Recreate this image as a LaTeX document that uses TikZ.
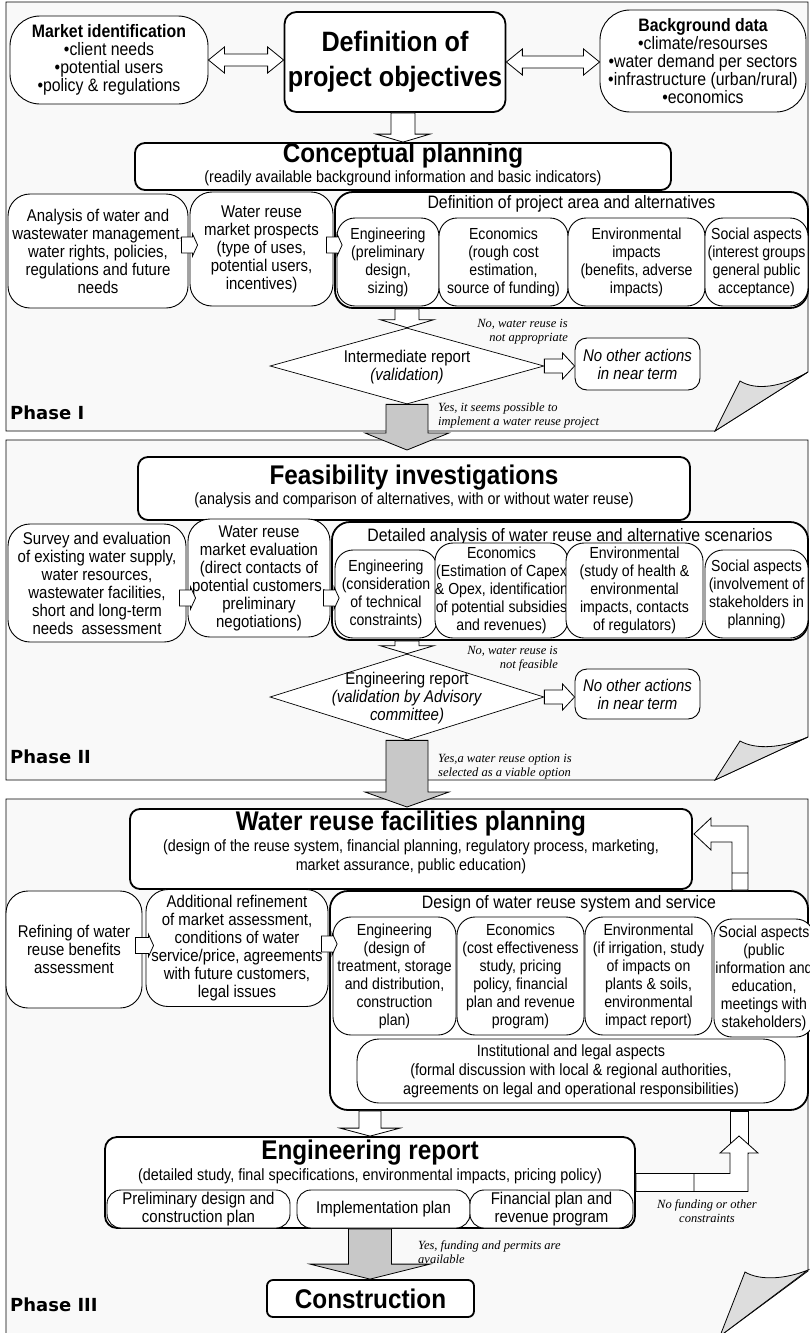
\documentclass[tikz,border=0pt]{standalone}
\usepackage{fontspec}
\setmainfont{Liberation Sans}[FakeStretch=0.88]
\newfontfamily\titlefam{Liberation Sans}[FakeStretch=0.9]
\newfontfamily\serifit{Liberation Serif}
\newfontfamily\phasefam{DejaVu Sans}
\usetikzlibrary{shapes,arrows,positioning,calc}

\newcommand{\wrBody}{\fontsize{17}{18}\selectfont}
\newcommand{\wrSmall}{\fontsize{16}{18}\selectfont}
\newcommand{\wrTop}{\fontsize{18}{18}\selectfont}
\newcommand{\wrGroup}{\fontsize{18}{20}\selectfont}
\newcommand{\wrSub}{\fontsize{16.3}{19}\selectfont}
\newcommand{\wrTitle}{\titlefam\bfseries\fontsize{27}{28}\selectfont}
\newcommand{\wrNote}{\serifit\itshape\fontsize{12.5}{14}\selectfont}
\newcommand{\wrPhase}{\phasefam\bfseries\fontsize{18}{20}\selectfont}

% hollow block arrows: style, from, to, shaft half, head half, head length
\newcommand{\downarr}[6]{%
  \draw[#1] let \p1=(#2), \p2=(#3) in
    (\x1-#4,\y1) -- (\x1-#4,\y2+#6) -- (\x1-#5,\y2+#6) -- (\x1,\y2)
    -- (\x1+#5,\y2+#6) -- (\x1+#4,\y2+#6) -- (\x1+#4,\y1) -- cycle;}
\newcommand{\rightarr}[6]{%
  \draw[#1] let \p1=(#2), \p2=(#3) in
    (\x1,\y1+#4) -- (\x2-#6,\y1+#4) -- (\x2-#6,\y1+#5) -- (\x2,\y1)
    -- (\x2-#6,\y1-#5) -- (\x2-#6,\y1-#4) -- (\x1,\y1-#4) -- cycle;}
\newcommand{\dblarr}[6]{%
  \draw[#1] let \p1=(#2), \p2=(#3) in
    (\x1,\y1) -- (\x1+#6,\y1+#5) -- (\x1+#6,\y1+#4) -- (\x2-#6,\y1+#4)
    -- (\x2-#6,\y1+#5) -- (\x2,\y1) -- (\x2-#6,\y1-#5) -- (\x2-#6,\y1-#4)
    -- (\x1+#6,\y1-#4) -- (\x1+#6,\y1-#5) -- cycle;}

\begin{document}
\begin{tikzpicture}[x=1pt,y=-1pt,
  panel/.style={draw=black,fill=gray!5,line width=0.8pt},
  flap/.style={draw=black,fill=gray!27,line width=0.8pt},
  box/.style={draw,fill=white,rounded corners=18pt,align=center,inner xsep=0pt,inner ysep=1pt,line width=0.9pt,font=\wrBody},
  subbox/.style={box,font=\wrSmall},
  topbox/.style={box,font=\wrTop},
  headbox/.style={draw,fill=white,rounded corners=10pt,line width=1.8pt},
  groupbox/.style={draw,fill=white,rounded corners=18pt,line width=1.8pt},
  endbox/.style={draw,fill=white,rounded corners=12pt,align=center,line width=0.9pt,font=\wrBody\itshape},
  decision/.style={draw,fill=white,diamond,aspect=3.6,inner sep=0pt,line width=0.7pt},
  txt/.style={inner sep=0pt,align=center,font=\wrBody},
  note/.style={inner sep=0pt,font=\wrNote},
  blockarrow/.style={draw,fill=white,line width=0.8pt},
  grayarrow/.style={draw,fill=gray!43,line width=0.8pt},
  phase/.style={inner sep=0pt,anchor=west,font=\wrPhase}]
\useasboundingbox (0,0) rectangle (810,1333);

% Phase panels with folded corners
\draw[panel] (6,2) -- (808,2) -- (808,372) -- (715,431) -- (6,431) -- cycle;
\draw[flap] (715,431) -- (740,381) .. controls (756,391) and (782,387) .. (808,372) -- cycle;
\draw[panel] (6,440) -- (808,440) -- (808,737) -- (715,780) -- (6,780) -- cycle;
\draw[flap] (715,780) -- (740,741) .. controls (756,750) and (782,748) .. (808,737) -- cycle;
\draw[panel] (6,799) -- (808,799) -- (808,1271) -- (720,1336) -- (6,1336) -- cycle;
\draw[flap] (720,1336) -- (745,1272) .. controls (760,1281) and (786,1279) .. (808,1270) -- cycle;

% ---------------- Phase I ----------------
\node[topbox, rounded corners=30pt, minimum width=198pt, minimum height=88pt] (market) at (109,60)
  {{\bfseries Market identification}\\•client needs\\•potential users\\•policy \& regulations};
\node[headbox, rounded corners=12pt, minimum width=210pt, minimum height=100pt, align=center,
  font=\titlefam\bfseries\fontsize{28}{35}\selectfont] (objectives) at (395,62) {Definition of\\project objectives};
\node[topbox, rounded corners=30pt, minimum width=206pt, minimum height=102pt] (background) at (703,61)
  {{\bfseries Background data}\\•climate/resourses\\•water demand per sectors\\•infrastructure (urban/rural)\\•economics};
\dblarr{blockarrow}{market.east}{objectives.west}{6pt}{13pt}{16pt}
\dblarr{blockarrow}{objectives.east}{background.west}{6pt}{13pt}{16pt}

\node[headbox, minimum width=536pt, minimum height=47pt] (concept) at (403,166.5) {};
\node[txt, font=\wrTitle] (conceptT) at (403,156) {Conceptual planning};
\node[txt, font=\wrSub] (conceptS) at (403,178) {(readily available background information and basic indicators)};
\downarr{blockarrow}{objectives.south -| concept.north}{concept.north}{12pt}{27pt}{8pt}

\node[box, rounded corners=22pt, minimum width=180pt, minimum height=114pt] (analysis) at (98,251)
  {Analysis of water and\\wastewater management,\\water rights, policies,\\regulations and future\\needs};
\node[box, rounded corners=22pt, minimum width=143pt, minimum height=114pt] (prospects) at (261.5,249)
  {Water reuse\\market prospects\\(type of uses,\\potential users,\\incentives)};
\node[groupbox, minimum width=473pt, minimum height=116pt] (area) at (571.5,250) {};
\node[txt, font=\wrGroup] (areaT) at (571.5,204) {Definition of project area and alternatives};
\node[subbox, minimum width=102pt, minimum height=88pt] (engI) at (388,262) {Engineering\\(preliminary\\design,\\sizing)};
\node[subbox, minimum width=129pt, minimum height=88pt] (ecoI) at (503.5,262) {Economics\\(rough cost\\estimation,\\source of funding)};
\node[subbox, minimum width=137pt, minimum height=88pt] (envI) at (636.5,262) {Environmental\\impacts\\(benefits, adverse\\impacts)};
\node[subbox, minimum width=103pt, minimum height=88pt] (socI) at (756.5,262) {Social aspects\\(interest groups\\general public\\acceptance)};
\rightarr{blockarrow}{$(analysis.east)+(-7,-6)$}{$(prospects.west)+(8,-4)$}{8pt}{11pt}{5pt}
\rightarr{blockarrow}{$(prospects.east)+(-7,-4)$}{$(area.west)+(8,0)$}{8pt}{11pt}{5pt}

\node[decision, minimum width=274pt, minimum height=76pt] (diaI) at (407,366) {};
\node[txt] (diaIT) at (407,367) {Intermediate report\\\textit{(validation)}};
\downarr{blockarrow}{area.south -| diaI.north}{diaI.north}{12pt}{27pt}{8pt}
\node[note, anchor=east, align=right] (noteNoI) at (568,332) {No, water reuse is\\not appropriate};
\node[endbox, minimum width=125pt, minimum height=52pt] (stopI) at (637.5,364) {No other actions\\in near term};
\rightarr{blockarrow}{diaI.east}{stopI.west}{7pt}{13pt}{12pt}
\node[phase] (phaseI) at (10,413) {Phase I};
\coordinate (tipI) at (407,450);
\downarr{grayarrow}{diaI.south}{tipI}{21pt}{42pt}{17pt}
\node[note, anchor=north west, align=left] (noteYesI) at (438,403) {Yes, it seems possible to\\implement a water reuse project};

% ---------------- Phase II ----------------
\node[headbox, minimum width=552pt, minimum height=63pt] (feas) at (414,488.5) {};
\node[txt, font=\wrTitle] (feasT) at (414,478) {Feasibility investigations};
\node[txt, font=\wrSub] (feasS) at (414,500) {(analysis and comparison of alternatives, with or without water reuse)};

\node[box, rounded corners=22pt, minimum width=178pt, minimum height=118pt] (survey) at (97,583)
  {Survey and evaluation\\of existing water supply,\\water resources,\\wastewater facilities,\\short and long-term\\needs\ \ assessment};
\node[box, rounded corners=22pt, minimum width=142pt, minimum height=118pt] (marketII) at (259,578)
  {Water reuse\\market evaluation\\(direct contacts of\\potential customers,\\preliminary\\negotiations)};
\node[groupbox, minimum width=476pt, minimum height=118pt] (detail) at (570,581) {};
\node[txt, font=\wrGroup] (detailT) at (570,537) {Detailed analysis of water reuse and alternative scenarios};
\node[subbox, minimum width=102pt, minimum height=88pt] (engII) at (386,594) {Engineering\\(consideration\\of technical\\constraints)};
\node[subbox, minimum width=130pt, minimum height=95pt] (ecoII) at (501.5,590.5) {Economics\\(Estimation of Capex\\\& Opex, identification\\of potential subsidies\\and revenues)};
\node[subbox, minimum width=137pt, minimum height=95pt] (envII) at (634.5,590.5) {Environmental\\(study of health \&\\environmental\\impacts, contacts\\of regulators)};
\node[subbox, minimum width=103pt, minimum height=88pt] (socII) at (756.5,594) {Social aspects\\(involvement of\\stakeholders in\\planning)};
\rightarr{blockarrow}{$(survey.east)+(-7,15)$}{$(marketII.west)+(8,20)$}{8pt}{11pt}{5pt}
\rightarr{blockarrow}{$(marketII.east)+(-7,20)$}{$(detail.west)+(8,18)$}{8pt}{11pt}{5pt}

\node[decision, minimum width=274pt, minimum height=86pt] (diaII) at (407,697) {};
\node[txt] (diaIIT) at (407,698) {Engineering report\\\textit{(validation by Advisory}\\\textit{committee)}};
\downarr{blockarrow}{detail.south -| diaII.north}{diaII.north}{12pt}{27pt}{8pt}
\node[note, anchor=east, align=right] (noteNoII) at (558,659) {No, water reuse is\\not feasible};
\node[endbox, minimum width=125pt, minimum height=50pt] (stopII) at (637.5,694) {No other actions\\in near term};
\rightarr{blockarrow}{diaII.east}{stopII.west}{7pt}{13pt}{12pt}
\node[phase] (phaseII) at (10,757) {Phase II};
\coordinate (tipII) at (407,807);
\downarr{grayarrow}{diaII.south}{tipII}{21pt}{42pt}{15pt}
\node[note, anchor=north west, align=left] (noteYesII) at (438,754) {Yes,a water reuse option is\\selected as a viable option};

% ---------------- Phase III ----------------
\node[headbox, minimum width=562pt, minimum height=80pt] (facil) at (411,849) {};
\node[txt, font=\wrTitle] (facilT) at (411,824) {Water reuse facilities planning};
\node[txt, font=\wrSub] (facilS) at (411,857) {(design of the reuse system, financial planning, regulatory process, marketing,\\market assurance, public education)};

\node[box, rounded corners=22pt, minimum width=136pt, minimum height=117pt] (refine) at (74,949.5)
  {Refining of water\\reuse benefits\\assessment};
\node[box, rounded corners=22pt, minimum width=182pt, minimum height=117pt] (addref) at (237,948)
  {Additional refinement\\of market assessment,\\conditions of water\\service/price, agreements\\with future customers,\\legal issues};
\node[groupbox, minimum width=478pt, minimum height=219pt] (design) at (569,1000.5) {};
\node[txt, font=\wrGroup] (designT) at (569,904) {Design of water reuse system and service};
\node[subbox, minimum width=123pt, minimum height=118pt] (engIII) at (394.5,976) {Engineering\\(design of\\treatment, storage\\and distribution,\\construction\\plan)};
\node[subbox, minimum width=127pt, minimum height=118pt] (ecoIII) at (520.5,976) {Economics\\(cost effectiveness\\study, pricing\\policy, financial\\plan and revenue\\program)};
\node[subbox, minimum width=127pt, minimum height=118pt] (envIII) at (648.5,976) {Environmental\\(if irrigation, study\\of impacts on\\plants \& soils,\\environmental\\impact report)};
\node[subbox, minimum width=100pt, minimum height=118pt] (socIII) at (764,978) {Social aspects\\(public\\information and\\education,\\meetings with\\stakeholders)};
\node[box, font=\wrSub, rounded corners=22pt, minimum width=428pt, minimum height=64pt] (legal) at (571,1071)
  {Institutional and legal aspects\\(formal discussion with local \& regional authorities,\\agreements on legal and operational responsibilities)};
\rightarr{blockarrow}{$(refine.east)+(-7,-4)$}{$(addref.west)+(8,-4)$}{8pt}{11pt}{5pt}
\rightarr{blockarrow}{$(addref.east)+(-7,-4)$}{$(design.west)+(8,-4)$}{8pt}{11pt}{5pt}

% loop back to facilities planning
\coordinate (loopbase) at (740,890);
\coordinate (looptip) at (694,834);
\draw[blockarrow] let \p1=(loopbase), \p2=(looptip) in
  (\x1-8pt,\y1) -- (\x1-8pt,\y2-8pt) -- (\x2+17pt,\y2-8pt) -- (\x2+17pt,\y2-16pt) -- (\x2,\y2)
  -- (\x2+17pt,\y2+16pt) -- (\x2+17pt,\y2+8pt) -- (\x1+8pt,\y2+8pt) -- (\x1+8pt,\y1) -- cycle
  (\x1-8pt,\y1+17pt) -- (\x1+8pt,\y1+17pt);

\node[headbox, rounded corners=12pt, minimum width=530pt, minimum height=91pt] (report) at (370,1182.5) {};
\node[txt, font=\wrTitle] (reportT) at (370,1153) {Engineering report};
\node[txt, font=\wrSub] (reportS) at (370,1176) {(detailed study, final specifications, environmental impacts, pricing policy)};
\node[box, rounded corners=14pt, minimum width=183pt, minimum height=38pt] (prelim) at (198.5,1209) {Preliminary design and\\construction plan};
\node[box, rounded corners=14pt, minimum width=173pt, minimum height=38pt] (implem) at (383.5,1209) {Implementation plan};
\node[box, rounded corners=14pt, minimum width=163pt, minimum height=38pt] (finplan) at (551.5,1209) {Financial plan and\\revenue program};
\downarr{blockarrow}{design.south -| report.north}{report.north}{11pt}{30pt}{8pt}

% return arrow when funding fails
\coordinate (rettip) at (739,1136);
\draw[blockarrow] let \p1=(design.south -| rettip) in (\x1-9pt,\y1) rectangle (\x1+9pt,\y1-42pt);
\draw[blockarrow] let \p1=(report.east), \p2=(rettip) in
  (\x1,\y1+9pt) -- (\x2-9pt,\y1+9pt) -- (\x2-9pt,\y2-17pt) -- (\x2-19pt,\y2-17pt) -- (\x2,\y2)
  -- (\x2+19pt,\y2-17pt) -- (\x2+9pt,\y2-17pt) -- (\x2+9pt,\y1-9pt) -- (\x1,\y1-9pt) -- cycle
  (\x1+58pt,\y1+9pt) -- (\x1+58pt,\y1-9pt);
\node[note, align=center] (noteNoIII) at (707,1211) {No funding or other\\constraints};

\node[headbox, rounded corners=6pt, minimum width=207pt, minimum height=37pt, font=\wrTitle] (build) at (370.5,1298.5) {Construction};
\downarr{grayarrow}{report.south}{build.north}{21.5pt}{60pt}{15pt}
\node[note, anchor=north west, align=left] (noteYesIII) at (418,1240) {Yes, funding and permits are\\available};
\node[phase] (phaseIII) at (10,1305) {Phase III};
\end{tikzpicture}
\end{document}
